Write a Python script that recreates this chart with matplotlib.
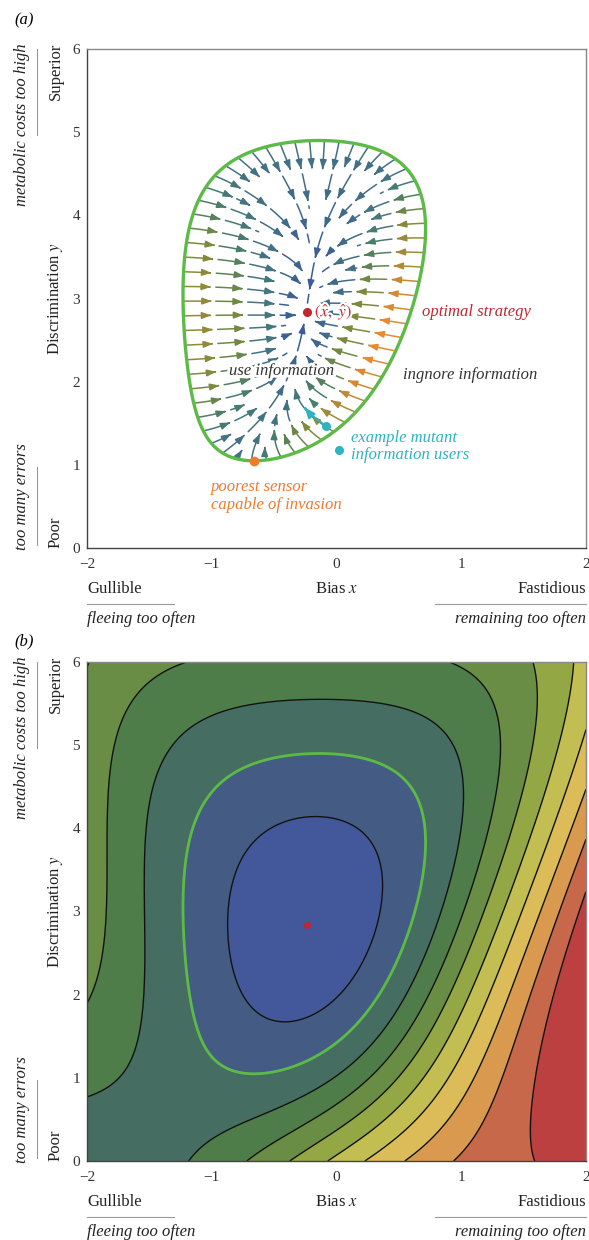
import math

import contourpy
import numpy as np
import matplotlib
matplotlib.use("Agg")
import matplotlib.pyplot as plt
import matplotlib.patheffects as pe
from matplotlib.colors import LinearSegmentedColormap, Normalize
from matplotlib.patches import FancyArrowPatch
from matplotlib.path import Path

# signal-detection cost model, coefficients
miss_cost = 2.0        # remaining when the threat is real
flee_cost = 1.0        # fleeing for nothing
metabolic_rate = 0.2   # sensor cost per unit of discrimination

# contour levels of panel (b); 1.0 = cost of ignoring information
contour_levels = [0.882, 1.0, 1.118, 1.236, 1.354, 1.472, 1.59, 1.708, 1.826, 1.944]
invasion_level = 1.0

fill_colors = ["#42589a", "#445c84", "#466d61", "#4e7d4a", "#6a8d45", "#93a845",
               "#c3be52", "#dbbc58", "#d99a50", "#c8684a", "#bc4040"]
stream_stops = [0.0, 0.2, 0.35, 0.45, 0.55, 0.75, 0.9, 1.0]
stream_colors = ["#3b55a0", "#3e6290", "#437580", "#4b7e66", "#788a3e", "#ad8a35",
                 "#e68a30", "#ef8a2c"]

# example mutants (one inside, one outside the invasion region)
mutant_x = [-0.085, 0.02]
mutant_y = [1.47, 1.18]

x_ticks = [-2, -1, 0, 1, 2]
y_ticks = [0, 1, 2, 3, 4, 5, 6]

GREEN = "#5cbb46"
RED = "#c1272d"
CYAN = "#2db3c1"
ORANGE = "#f07a2e"

plt.rcParams["font.family"] = ["Liberation Serif", "DejaVu Serif"]
plt.rcParams["mathtext.fontset"] = "stix"

SQ2PI = math.sqrt(2 * math.pi)
_erf = np.vectorize(math.erf, otypes=[float])


def norm_cdf(z):
    return 0.5 * (1.0 + _erf(np.asarray(z, dtype=float) / math.sqrt(2.0)))


def norm_pdf(z):
    return np.exp(-np.asarray(z, dtype=float) ** 2 / 2) / SQ2PI


def field(x, y):
    a = x - y / 2   # miss
    b = -x - y / 2  # false alarm
    cost = miss_cost * norm_cdf(a) + flee_cost * norm_cdf(b) + metabolic_rate * y
    dx = miss_cost * norm_pdf(a) - flee_cost * norm_pdf(b)
    dy = -(miss_cost * norm_pdf(a) + flee_cost * norm_pdf(b)) / 2 + metabolic_rate
    return cost, dx, dy


def grad_at(x, y):
    pa = math.exp(-(x - y / 2) ** 2 / 2) / SQ2PI
    pb = math.exp(-(-x - y / 2) ** 2 / 2) / SQ2PI
    return (miss_cost * pa - flee_cost * pb,
            -(miss_cost * pa + flee_cost * pb) / 2 + metabolic_rate)


xs = np.linspace(-2, 2, 401)
ys = np.linspace(0, 6, 601)
X, Y = np.meshgrid(xs, ys)
cost, dcdx, dcdy = field(X, Y)
speed = np.hypot(dcdx, dcdy)

i_min = np.unravel_index(np.argmin(cost), cost.shape)
opt_x, opt_y = X[i_min], Y[i_min]

gen = contourpy.contour_generator(xs, ys, cost)
boundary = max(gen.lines(invasion_level), key=len)
poorest = boundary[np.argmin(boundary[:, 1])]

fig = plt.figure(figsize=(5.89, 12.40), dpi=100)
ax_a = fig.add_axes([87 / 589, (1240 - 548) / 1240, 499 / 589, 499 / 1240])
ax_b = fig.add_axes([87 / 589, (1240 - 1161) / 1240, 499 / 589, 499 / 1240])
PX, PY = 499 / 4, 499 / 6   # pixels per data unit


def style_axes(ax):
    ax.set_xlim(-2, 2)
    ax.set_ylim(0, 6)
    ax.set_xticks(x_ticks)
    ax.set_yticks(y_ticks)
    ax.tick_params(length=0, labelsize=11, labelcolor="#333")
    ax.tick_params(axis="x", pad=7)
    ax.tick_params(axis="y", pad=5)
    for side, sp in ax.spines.items():
        sp.set_color("#444" if side in ("left", "bottom") else "#888")
        sp.set_linewidth(1.0)

    t = ax.transAxes
    kw = dict(transform=t, fontsize=12, color="#222")
    ax.text(0, -0.082, "Gullible", ha="left", va="center", **kw)
    ax.text(0.5, -0.082, "Bias $x$", ha="center", va="center", **kw)
    ax.text(1, -0.082, "Fastidious", ha="right", va="center", **kw)
    ax.text(0, -0.142, "fleeing too often", ha="left", va="center", style="italic", **kw)
    ax.text(1, -0.142, "remaining too often", ha="right", va="center", style="italic", **kw)
    ax.text(-0.063, 1.012, "Superior", rotation=90, ha="center", va="top", **kw)
    ax.text(-0.063, 0.5, "Discrimination $y$", rotation=90, ha="center", va="center", **kw)
    ax.text(-0.063, 0.0, "Poor", rotation=90, ha="center", va="bottom", **kw)
    ax.text(-0.13, 1.012, "metabolic costs too high", rotation=90, ha="center", va="top",
            style="italic", **kw)
    ax.text(-0.13, -0.004, "too many errors", rotation=90, ha="center", va="bottom",
            style="italic", **kw)
    line_kw = dict(transform=t, clip_on=False, color="#999", lw=0.8)
    ax.plot([0, 0.175], [-0.112, -0.112], **line_kw)
    ax.plot([0.697, 1], [-0.112, -0.112], **line_kw)
    ax.plot([-0.1, -0.1], [0.828, 1.0], **line_kw)
    ax.plot([-0.1, -0.1], [0.006, 0.163], **line_kw)


def trace(x0, y0, owner, taken, step=0.8, gap_px=9.5):
    """follow the selection gradient (screen space) until it nears another line"""
    x, y = x0, y0
    pts = [(x, y)]
    prev = None
    for _ in range(3000):
        gx, gy = grad_at(x, y)
        vx, vy = -gx * PX, -gy * PY
        n = math.hypot(vx, vy)
        if n < 1e-9:
            break
        xm, ym = x + vx / n * step / 2 / PX, y + vy / n * step / 2 / PY
        gx, gy = grad_at(xm, ym)
        vx, vy = -gx * PX, -gy * PY
        n = math.hypot(vx, vy)
        if n < 1e-9:
            break
        dx, dy = vx / n, vy / n
        if prev is not None and dx * prev[0] + dy * prev[1] < 0.3:
            break
        x, y = x + dx * step / PX, y + dy * step / PY
        hx, hy = (x + 2) * PX, y * PY
        if math.hypot(hx - (opt_x + 2) * PX, hy - opt_y * PY) < 8:
            break
        ci, cj = int(hx // gap_px), int(hy // gap_px)
        hit = False
        for di in (-1, 0, 1):
            for dj in (-1, 0, 1):
                for qx, qy, who in taken.get((ci + di, cj + dj), ()):
                    if who != owner and math.hypot(qx - hx, qy - hy) < gap_px:
                        hit = True
                        break
                if hit:
                    break
            if hit:
                break
        if hit:
            break
        taken.setdefault((ci, cj), []).append((hx, hy, owner))
        pts.append((x, y))
        prev = (dx, dy)
    return np.array(pts)


# ---- panel (a): selection gradient inside the invasion region ----
style_axes(ax_a)
stream_cmap = LinearSegmentedColormap.from_list("streams", list(zip(stream_stops, stream_colors)))
inside_max = speed[cost <= invasion_level].max()
stream_norm = Normalize(0, inside_max)

seed_line = max(gen.lines(invasion_level - 0.002), key=len)
sx, sy = seed_line[:, 0] * PX, seed_line[:, 1] * PY
arc = np.concatenate([[0], np.cumsum(np.hypot(np.diff(sx), np.diff(sy)))])
targets = np.linspace(0, arc[-1], 62, endpoint=False)
seeds = np.column_stack([np.interp(targets, arc, seed_line[:, 0]),
                         np.interp(targets, arc, seed_line[:, 1])])
seed_speed = [math.hypot(*grad_at(px, py)) for px, py in seeds]

taken = {}
dash, gap = 28.0, 4.0
for k in np.argsort(seed_speed):
    line = trace(seeds[k, 0], seeds[k, 1], k, taken)
    if len(line) < 6:
        continue
    s = np.concatenate([[0], np.cumsum(np.hypot(np.diff(line[:, 0]) * PX,
                                                 np.diff(line[:, 1]) * PY))])
    start = 0.0
    while start < s[-1] - 3:
        sel = (s >= start) & (s <= start + dash)
        piece = line[sel]
        if len(piece) >= 3:
            mid = piece[len(piece) // 3]
            c = stream_cmap(stream_norm(math.hypot(*grad_at(mid[0], mid[1]))))
            length = s[sel][-1] - s[sel][0]
            style = "-|>,head_length=0.55,head_width=0.2" if length > 9 else "-"
            ax_a.add_patch(FancyArrowPatch(path=Path(piece), arrowstyle=style,
                                           mutation_scale=10, color=c, lw=1.1,
                                           zorder=3))
        start += dash + gap

ax_a.contour(X, Y, cost, [invasion_level], colors=GREEN, linewidths=2.4, zorder=4)

# mutant trajectory from the inside example, followed along the gradient
path = [(mutant_x[0], mutant_y[0])]
for _ in range(56):
    cx, cy = path[-1]
    gx, gy = grad_at(cx, cy)
    n = math.hypot(gx * PX, gy * PY)
    path.append((cx - gx / n * 0.5, cy - gy / n * 0.5))
ax_a.add_patch(FancyArrowPatch(path=Path(np.array(path)),
                               arrowstyle="-|>,head_length=0.6,head_width=0.25",
                               mutation_scale=10, color=CYAN, lw=1.5, zorder=5))
ax_a.plot(mutant_x, mutant_y, "o", color=CYAN, ms=5.5, zorder=6)

ax_a.plot(poorest[0], poorest[1], "o", color=ORANGE, ms=6, zorder=6)
ax_a.plot(opt_x, opt_y, "o", color=RED, ms=5.5, zorder=6)

halo = [pe.withStroke(linewidth=4, foreground="white")]
ax_a.annotate(r"$(\hat{x},\ \hat{y})$", (opt_x, opt_y), xytext=(6, 0),
              textcoords="offset points", ha="left", va="center", fontsize=12,
              color=RED, path_effects=[pe.withStroke(linewidth=3, foreground="white")],
              zorder=7)
ax_a.text(0.685, opt_y, "optimal strategy", ha="left", va="center", fontsize=12,
          style="italic", color=RED)
ax_a.text(-0.44, 2.13, "use information", ha="center", va="center", fontsize=12,
          style="italic", color="#333", path_effects=halo, zorder=7)
ax_a.text(0.53, 2.08, "ingnore information", ha="left", va="center", fontsize=12,
          style="italic", color="#333")
ax_a.text(0.12, 1.22, "example mutant\ninformation users", ha="left", va="center",
          fontsize=12, style="italic", color=CYAN, linespacing=1.15)
ax_a.text(-1.01, 0.625, "poorest sensor\ncapable of invasion", ha="left", va="center",
          fontsize=12, style="italic", color=ORANGE, linespacing=1.15)

# ---- panel (b): cost landscape ----
style_axes(ax_b)
bounds = [cost.min()] + contour_levels + [cost.max()]
ax_b.contourf(X, Y, cost, levels=bounds, colors=fill_colors, antialiased=True)
black_levels = [lv for lv in contour_levels if lv != invasion_level]
ax_b.contour(X, Y, cost, black_levels, colors="#111", linewidths=1.0)
ax_b.contour(X, Y, cost, [invasion_level], colors=GREEN, linewidths=2.0)
ax_b.plot(opt_x, opt_y, "o", color=RED, ms=4, zorder=5)

fig.text(14 / 589, 1 - 20 / 1240, "(a)", fontsize=12, style="italic", va="center")
fig.text(14 / 589, 1 - 641 / 1240, "(b)", fontsize=12, style="italic", va="center")

fig.savefig("out.png", dpi=100)
